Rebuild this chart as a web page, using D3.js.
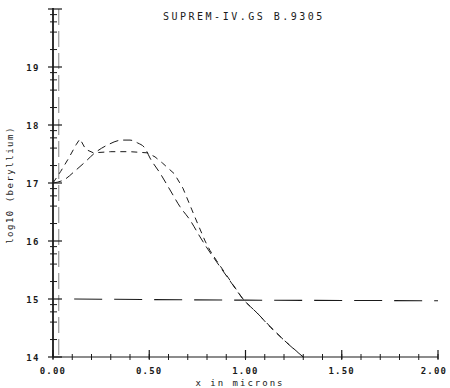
<!DOCTYPE html>
<html>
<head>
<meta charset="utf-8">
<script src="https://cdn.jsdelivr.net/npm/d3@7"></script>
<style>
  html, body { margin: 0; padding: 0; background: #fff; }
  svg { display: block; }
  text { font-family: "DejaVu Sans Mono", "Liberation Mono", monospace; fill: #1a1a1a; }
</style>
</head>
<body>
<svg id="chart" width="450" height="388"></svg>
<script>
// ---- data ----
const title = "SUPREM-IV.GS B.9305";
const xLabel = "x in microns";
const yLabel = "log10 (beryllium)";
const xTicks = [0, 0.5, 1.0, 1.5, 2.0];
const xTickLabels = ["0.00", "0.50", "1.00", "1.50", "2.00"];
const yTicks = [14, 15, 16, 17, 18, 19];
const yTickLabels = ["14", "15", "16", "17", "18", "19"];

// short-dash curve (spike near surface, flat plateau)
const curveAx = [0.00, 0.04, 0.08, 0.12, 0.14, 0.17, 0.21, 0.30, 0.40, 0.49, 0.53, 0.57, 0.63, 0.675, 0.72, 0.75, 0.79, 0.815, 0.85, 0.92, 0.99, 1.06, 1.13, 1.20, 1.30];
const curveAy = [17.00, 17.20, 17.42, 17.66, 17.76, 17.58, 17.52, 17.54, 17.54, 17.52, 17.45, 17.34, 17.16, 16.91, 16.55, 16.31, 16.00, 15.84, 15.66, 15.32, 14.98, 14.76, 14.51, 14.29, 14.00];

// medium-dash curve (smooth hump)
const curveBx = [0.00, 0.06, 0.115, 0.166, 0.218, 0.286, 0.358, 0.40, 0.44, 0.478, 0.504, 0.556, 0.608, 0.66, 0.712, 0.764, 0.80, 0.85, 0.92, 0.99, 1.06, 1.13, 1.20, 1.30];
const curveBy = [17.00, 17.06, 17.21, 17.36, 17.52, 17.66, 17.74, 17.74, 17.69, 17.60, 17.43, 17.17, 16.88, 16.59, 16.36, 16.07, 15.88, 15.64, 15.31, 14.99, 14.76, 14.52, 14.29, 14.00];

// long-dash near-flat curve at 1e15
const curveCx = [0.11, 0.50, 1.00, 1.50, 2.00];
const curveCy = [15.00, 14.99, 14.98, 14.975, 14.97];

// near-vertical faint profile close to the surface
const curveDx = [0.03, 0.03];
const curveDy = [20.0, 14.0];

// ---- drawing ----
const svg = d3.select("#chart");
const x = d3.scaleLinear().domain([0, 2]).range([53, 438]);
const y = d3.scaleLinear().domain([14, 20]).range([357, 9]);

const ink = "#1a1a1a";
const line = d3.line().x(d => x(d[0])).y(d => y(d[1]));
const zip = (a, b) => a.map((v, i) => [v, b[i]]);

// faint vertical profile
svg.append("path").datum(zip(curveDx, curveDy))
  .attr("d", line).attr("fill", "none").attr("stroke", "#666")
  .attr("stroke-width", 0.8).attr("stroke-dasharray", "16,6");

// curves
svg.append("path").datum(zip(curveCx, curveCy))
  .attr("d", line).attr("fill", "none").attr("stroke", ink)
  .attr("stroke-width", 1.1).attr("stroke-dasharray", "28,12");

svg.append("path").datum(zip(curveBx, curveBy))
  .attr("d", d3.line().x(d => x(d[0])).y(d => y(d[1])).curve(d3.curveMonotoneX))
  .attr("fill", "none").attr("stroke", ink)
  .attr("stroke-width", 1).attr("stroke-dasharray", "9,5");

svg.append("path").datum(zip(curveAx, curveAy))
  .attr("d", line).attr("fill", "none").attr("stroke", ink)
  .attr("stroke-width", 1).attr("stroke-dasharray", "6,5");

// axes lines
const axisG = svg.append("g").attr("stroke", ink);
axisG.append("line").attr("x1", x(0)).attr("x2", x(0)).attr("y1", y(20) - 1).attr("y2", y(14))
  .attr("stroke-width", 1.8);
axisG.append("line").attr("x1", x(0)).attr("x2", x(2)).attr("y1", y(14)).attr("y2", y(14))
  .attr("stroke-width", 1.2);

// x ticks: minor every 0.1 crossing the axis, majors at labels rising upward
const xMinor = d3.range(0, 2.0001, 0.1).map(v => +v.toFixed(2));
axisG.selectAll(".xminor").data(xMinor).join("line")
  .attr("x1", d => x(d)).attr("x2", d => x(d))
  .attr("y1", y(14) - 3).attr("y2", y(14) + 3).attr("stroke-width", 1);
axisG.selectAll(".xmajor").data(xTicks).join("line")
  .attr("x1", d => x(d)).attr("x2", d => x(d))
  .attr("y1", y(14) - 7).attr("y2", y(14) + 2).attr("stroke-width", 1.2);

// y ticks: majors at integers crossing the axis, minors at 2,4,6,8 x 10^n
const yMajor = d3.range(14, 20.001, 1);
axisG.selectAll(".ymajor").data(yMajor).join("line")
  .attr("x1", x(0) - 5).attr("x2", x(0) + 9)
  .attr("y1", d => y(d)).attr("y2", d => y(d)).attr("stroke-width", 1.2);
const yMinor = [];
for (let e = 14; e < 20; e++) [2, 4, 6, 8].forEach(k => yMinor.push(e + Math.log10(k)));
axisG.selectAll(".yminor").data(yMinor).join("line")
  .attr("x1", x(0) - 3).attr("x2", x(0) + 4)
  .attr("y1", d => y(d)).attr("y2", d => y(d)).attr("stroke-width", 1);

// tick labels
svg.selectAll(".xlab").data(xTicks).join("text")
  .attr("x", (d, i) => x(d) - (i === xTicks.length - 1 ? 4 : 0)).attr("y", 374)
  .attr("text-anchor", "middle").attr("font-size", 9).attr("font-weight", "bold")
  .attr("letter-spacing", 1.2)
  .text((d, i) => xTickLabels[i]);

svg.selectAll(".ylab").data(yTicks).join("text")
  .attr("x", 40).attr("y", d => y(d) + 3.5)
  .attr("text-anchor", "end").attr("font-size", 9).attr("font-weight", "bold")
  .attr("letter-spacing", 1.5)
  .text((d, i) => yTickLabels[i]);

// title & axis titles
svg.append("text").attr("x", 163).attr("y", 20)
  .attr("font-size", 10).attr("letter-spacing", 2.5)
  .text(title);

svg.append("text").attr("x", 240).attr("y", 386)
  .attr("text-anchor", "middle").attr("font-size", 9).attr("letter-spacing", 2)
  .text(xLabel);

svg.append("text")
  .attr("transform", "translate(13,185) rotate(-90)")
  .attr("text-anchor", "middle").attr("font-size", 9).attr("letter-spacing", 1.5)
  .text(yLabel);
</script>
</body>
</html>
